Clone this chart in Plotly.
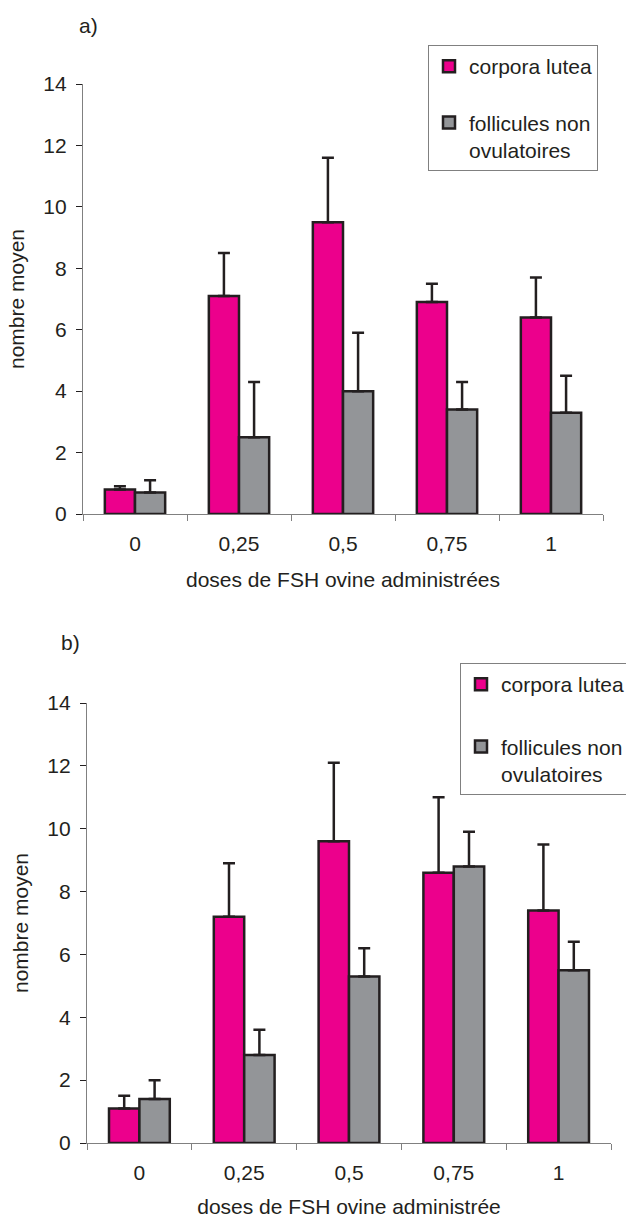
import plotly.graph_objects as go

doses = ["0", "0,25", "0,5", "0,75", "1"]

# panel a)
a_cl = [0.8, 7.1, 9.5, 6.9, 6.4]
a_cl_err = [0.1, 1.4, 2.1, 0.6, 1.3]
a_fno = [0.7, 2.5, 4.0, 3.4, 3.3]
a_fno_err = [0.4, 1.8, 1.9, 0.9, 1.2]

# panel b)
b_cl = [1.1, 7.2, 9.6, 8.6, 7.4]
b_cl_err = [0.4, 1.7, 2.5, 2.4, 2.1]
b_fno = [1.4, 2.8, 5.3, 8.8, 5.5]
b_fno_err = [0.6, 0.8, 0.9, 1.1, 0.9]

name_cl = "corpora lutea"
name_fno = "follicules non<br>ovulatoires"

PINK = "#EC008C"
GRAY = "#939598"
DARK = "#231F20"
AXIS = "#808080"
FONT = "Liberation Sans, Arial, sans-serif"
FS = 21

W, H = 626, 1218


def px(x):
    return x / W


def py(y):
    return 1 - y / H


def err(arr):
    return dict(type="data", symmetric=False, array=arr, arrayminus=[0] * len(arr),
                color=DARK, thickness=2.5, width=6)


fig = go.Figure()

panels = [
    (a_cl, a_cl_err, a_fno, a_fno_err, "x", "y", "legend", "a"),
    (b_cl, b_cl_err, b_fno, b_fno_err, "x2", "y2", "legend2", "b"),
]
for cl, cle, fno, fnoe, xa, ya, lg, tag in panels:
    fig.add_trace(go.Bar(x=doses, y=cl, name=name_cl, xaxis=xa, yaxis=ya,
                         marker=dict(color=PINK, line=dict(color=DARK, width=2.5)),
                         error_y=err(cle), legend=lg, legendgroup=tag + "1"))
    fig.add_trace(go.Bar(x=doses, y=fno, name=name_fno, xaxis=xa, yaxis=ya,
                         marker=dict(color=GRAY, line=dict(color=DARK, width=2.5)),
                         error_y=err(fnoe), legend=lg, legendgroup=tag + "2"))

yax = dict(range=[0, 14], dtick=2, ticks="outside", ticklen=6, tickcolor=DARK,
           showline=True, linecolor=AXIS, linewidth=1.2, showgrid=False, zeroline=False,
           tickfont=dict(family=FONT, size=FS, color=DARK), ticklabelstandoff=5,
           automargin=False,
           title=dict(text="nombre moyen", font=dict(family=FONT, size=FS, color=DARK), standoff=12))
xax = dict(type="category", range=[-0.5, 4.5], ticks="outside", ticklen=6, tickcolor=AXIS,
           tickson="boundaries", showline=True, linecolor=AXIS, linewidth=1.2, showgrid=False,
           tickfont=dict(family=FONT, size=FS, color=DARK), ticklabelstandoff=11,
           automargin=False)

legend_common = dict(xanchor="left", yanchor="top", bgcolor="white", bordercolor=AXIS,
                     borderwidth=1, font=dict(family=FONT, size=FS, color=DARK),
                     traceorder="grouped", tracegroupgap=26, valign="top",
                     itemclick=False, itemdoubleclick=False)

fig.update_layout(
    width=W, height=H,
    margin=dict(l=0, r=0, t=0, b=0, autoexpand=False),
    paper_bgcolor="white", plot_bgcolor="white",
    barmode="group", bargap=0.42, bargroupgap=0,
    showlegend=True,
    font=dict(family=FONT, size=FS, color=DARK),
    xaxis=dict(xax, domain=[px(83), px(603)], anchor="y",
               title=dict(text="doses de FSH ovine administrées",
                          font=dict(family=FONT, size=FS, color=DARK), standoff=18)),
    yaxis=dict(yax, domain=[py(514), py(84)], anchor="x"),
    xaxis2=dict(xax, domain=[px(87), px(611)], anchor="y2",
                title=dict(text="doses de FSH ovine administrée",
                           font=dict(family=FONT, size=FS, color=DARK), standoff=16)),
    yaxis2=dict(yax, domain=[py(1143), py(703)], anchor="x2"),
    legend=dict(legend_common, x=px(428), y=py(45)),
    legend2=dict(legend_common, x=px(460), y=py(663), tracegroupgap=32),
    annotations=[
        dict(text="a)", x=px(88), y=py(25), xref="paper", yref="paper", showarrow=False,
             font=dict(family=FONT, size=FS, color=DARK), xanchor="center", yanchor="middle"),
        dict(text="b)", x=px(70), y=py(642), xref="paper", yref="paper", showarrow=False,
             font=dict(family=FONT, size=FS, color=DARK), xanchor="center", yanchor="middle"),
    ],
)

fig.write_html("out.html")
